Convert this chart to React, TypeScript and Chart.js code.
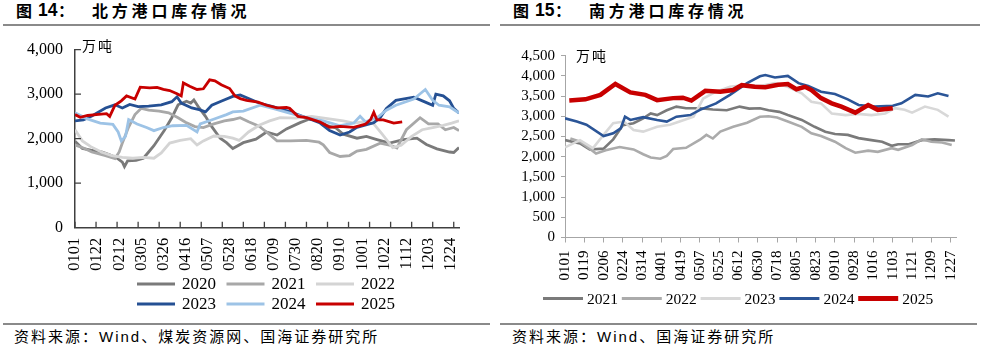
import React, { useEffect, useRef } from "react";
import { Chart, registerables } from "chart.js";

Chart.register(...registerables);

type Pt = [number, number];

// ---------- tick labels ----------
const northTickLabels = ["0101","0122","0212","0305","0326","0416","0507","0528","0618","0709","0730","0820","0910","1001","1022","1112","1203","1224"];
const southTickLabels = ["0101","0119","0206","0224","0314","0401","0419","0507","0525","0612","0630","0718","0805","0823","0910","0928","1016","1103","1121","1209","1227"];
const northTickMarkDays = [0,20,40,60,80,100,120,140,160,180,200,220,240,260,280,300,320,340,360];
const northYTicks = [0, 1000, 2000, 3000, 4000];
const southYTicks = [0, 500, 1000, 1500, 2000, 2500, 3000, 3500, 4000, 4500];

// ---------- north port inventory (day of year, 万吨) ----------
const north2020: Pt[] = [[0,1940],[7,1780],[15,1740],[26,1700],[33,1640],[40,1560],[45,1470],[47,1370],[50,1500],[58,1510],[65,1560],[70,1700],[75,1840],[85,2190],[92,2470],[98,2760],[106,2840],[110,2800],[113,2870],[118,2690],[124,2500],[130,2270],[138,2010],[144,1910],[150,1780],[160,1910],[172,1990],[182,2150],[192,2080],[201,2220],[214,2360],[223,2440],[230,2420],[239,2300],[248,2240],[255,2100],[268,2010],[277,2050],[287,1980],[299,1900],[312,1980],[325,2010],[334,1870],[344,1770],[356,1700],[360,1690],[365,1800]];
const north2021: Pt[] = [[0,1860],[8,1790],[16,1700],[29,1620],[38,1550],[42,1700],[45,1900],[51,2260],[57,2540],[63,2680],[70,2640],[80,2620],[89,2580],[98,2470],[105,2370],[114,2270],[122,2250],[132,2330],[142,2400],[150,2430],[157,2470],[165,2380],[175,2280],[182,2150],[192,1950],[205,1950],[220,1960],[232,1920],[236,1860],[242,1690],[252,1600],[261,1620],[268,1720],[277,1760],[290,1900],[300,1850],[306,1790],[315,2200],[328,2470],[336,2330],[345,2330],[352,2200],[360,2250],[365,2180]];
const north2022: Pt[] = [[0,2200],[7,1950],[15,1820],[25,1700],[35,1620],[45,1580],[55,1560],[65,1580],[75,1560],[82,1680],[90,1900],[100,1960],[110,2000],[116,1860],[122,1950],[132,2060],[142,2050],[150,2010],[156,1960],[165,2150],[175,2300],[185,2400],[195,2470],[210,2460],[225,2500],[240,2450],[255,2400],[265,2350],[275,2380],[284,2330],[292,2100],[302,1800],[310,1850],[320,2050],[330,2200],[340,2250],[350,2300],[358,2350],[365,2400]];
const north2023: Pt[] = [[0,2400],[8,2420],[16,2510],[29,2690],[38,2760],[45,2690],[52,2770],[60,2720],[70,2730],[82,2760],[92,2830],[97,2940],[101,2800],[111,2690],[118,2650],[124,2600],[130,2750],[140,2850],[150,2950],[157,2980],[165,2900],[175,2800],[188,2720],[204,2610],[220,2470],[233,2350],[242,2180],[252,2080],[261,2150],[268,2255],[284,2360],[290,2470],[296,2680],[305,2860],[322,2930],[333,2820],[340,2750],[343,3000],[350,2960],[356,2850],[360,2680],[365,2575]];
const north2024: Pt[] = [[0,2580],[11,2450],[24,2350],[36,2320],[41,2150],[44,1950],[48,2050],[51,2430],[59,2330],[68,2250],[75,2180],[84,2250],[93,2290],[106,2300],[116,2150],[119,2330],[131,2430],[144,2540],[150,2600],[160,2620],[176,2750],[188,2680],[204,2575],[220,2470],[236,2400],[252,2290],[265,2350],[271,2500],[276,2380],[287,2470],[296,2640],[305,2750],[322,2890],[333,3105],[340,2860],[346,2750],[356,2715],[365,2575]];
const north2025: Pt[] = [[0,2540],[5,2480],[12,2520],[20,2540],[30,2560],[33,2500],[38,2750],[44,2850],[49,2960],[57,2890],[62,3155],[71,3140],[78,3150],[84,3105],[90,3080],[97,3010],[101,2960],[103,3250],[109,3175],[116,3105],[122,3120],[128,3320],[133,3300],[139,3210],[147,3125],[152,2960],[157,2900],[163,2860],[174,2820],[182,2750],[192,2690],[201,2700],[204,2680],[212,2500],[220,2470],[233,2375],[242,2255],[252,2275],[265,2255],[276,2325],[281,2430],[284,2590],[287,2420],[293,2420],[303,2350],[311,2375]];

// ---------- south port inventory (day of year, 万吨) ----------
const south2021: Pt[] = [[0,2410],[14,2330],[23,2180],[36,2200],[45,2430],[54,2780],[64,2830],[73,2950],[80,3070],[86,3030],[95,3150],[104,3240],[113,3200],[126,3200],[138,3170],[151,3150],[163,3240],[172,3190],[182,3200],[190,3150],[200,3110],[208,3030],[221,2910],[233,2740],[243,2620],[252,2560],[264,2540],[274,2460],[286,2410],[296,2370],[305,2270],[311,2310],[321,2310],[333,2410],[345,2430],[358,2410],[364,2400]];
const south2022: Pt[] = [[5,2450],[14,2370],[23,2200],[29,2080],[38,2160],[51,2240],[64,2180],[73,2060],[80,1980],[89,1950],[95,2020],[101,2190],[113,2220],[126,2420],[132,2540],[138,2450],[145,2620],[157,2740],[170,2840],[182,2990],[190,3000],[198,2970],[208,2870],[221,2740],[230,2580],[239,2510],[252,2370],[262,2210],[271,2100],[283,2150],[292,2120],[305,2210],[311,2170],[324,2290],[333,2430],[342,2370],[352,2350],[361,2290]];
const south2023: Pt[] = [[0,2230],[14,2410],[26,2210],[36,2540],[45,2830],[55,2870],[64,2660],[73,2620],[86,2740],[98,2790],[107,2870],[120,2990],[129,3440],[141,3610],[154,3730],[170,3780],[182,3750],[196,3820],[208,3730],[221,3570],[230,3360],[239,3320],[249,3070],[262,3030],[274,3060],[286,3030],[299,3070],[308,3200],[317,3160],[324,3090],[336,3240],[348,3160],[358,2990]];
const south2024: Pt[] = [[0,2950],[11,2870],[20,2790],[36,2510],[45,2580],[52,2700],[56,2990],[61,2910],[73,2980],[86,2910],[95,2870],[104,2990],[117,3030],[126,3160],[141,3320],[154,3530],[170,3820],[182,3990],[187,4020],[196,3960],[208,4000],[218,3820],[227,3750],[239,3610],[252,3550],[264,3420],[274,3280],[289,3240],[306,3260],[314,3320],[327,3530],[339,3490],[348,3570],[358,3500]];
const south2025: Pt[] = [[4,3390],[19,3420],[33,3530],[47,3800],[61,3590],[75,3530],[86,3400],[101,3450],[110,3460],[118,3390],[131,3630],[145,3610],[157,3650],[165,3770],[177,3730],[187,3720],[199,3780],[208,3800],[216,3670],[224,3730],[230,3650],[239,3450],[249,3320],[258,3240],[271,3090],[283,3280],[292,3160],[306,3200]];

// ---------- helpers ----------
const MONTH_START = [0, 31, 59, 90, 120, 151, 181, 212, 243, 273, 304, 334];
const dayOfYear = (mmdd: string) =>
  MONTH_START[Number(mmdd.slice(0, 2)) - 1] + Number(mmdd.slice(2)) - 1;
const toXY = (pts: Pt[]) => pts.map(([x, y]) => ({ x, y }));
const fmt = (v: number | string) => Number(v).toLocaleString("en-US");

const SERIF = "'Liberation Serif', 'Times New Roman', serif";
const CJK = "'Liberation Sans', 'Noto Sans CJK SC', sans-serif";

const lineLegendPlugin = {
  id: "lineLegend",
  afterDraw(chart: any, _args: any, opts: any) {
    if (!opts || !opts.rows) return;
    const ctx = chart.ctx as CanvasRenderingContext2D;
    ctx.save();
    ctx.font = opts.font;
    ctx.textBaseline = "middle";
    ctx.textAlign = "left";
    ctx.fillStyle = opts.color;
    opts.rows.forEach((row: any) => {
      row.indices.forEach((di: number, k: number) => {
        const ds = chart.data.datasets[di];
        const x = row.x + k * opts.pitch;
        ctx.strokeStyle = ds.borderColor;
        ctx.lineWidth = ds.legendLineWidth ?? ds.borderWidth;
        ctx.lineCap = "butt";
        ctx.beginPath();
        ctx.moveTo(x, row.y);
        ctx.lineTo(x + opts.lineLength, row.y);
        ctx.stroke();
        ctx.fillText(ds.label, x + opts.textOffset, row.y + (opts.textDy || 0));
      });
    });
    ctx.restore();
  },
};

const innerTicksPlugin = {
  id: "innerTicks",
  afterDraw(chart: any, _args: any, opts: any) {
    if (!opts || !opts.enabled) return;
    const ctx = chart.ctx as CanvasRenderingContext2D;
    const { chartArea } = chart;
    const xs = chart.scales.x;
    const ys = chart.scales.y;
    ctx.save();
    ctx.strokeStyle = opts.color;
    ctx.lineWidth = opts.width;
    ctx.beginPath();
    (opts.xValues || []).forEach((v: number) => {
      const px = xs.getPixelForValue(v);
      ctx.moveTo(px, chartArea.bottom);
      ctx.lineTo(px, chartArea.bottom - opts.length);
    });
    (opts.yValues || []).forEach((v: number) => {
      if (v === 0) return;
      const py = ys.getPixelForValue(v);
      ctx.moveTo(chartArea.left, py);
      ctx.lineTo(chartArea.left + opts.length, py);
    });
    ctx.stroke();
    ctx.restore();
  },
};

function northConfig(): any {
  const series = [
    { name: "2020", pts: north2020, color: "#7a7a7a" },
    { name: "2021", pts: north2021, color: "#a8a8a8" },
    { name: "2022", pts: north2022, color: "#d4d4d4" },
    { name: "2023", pts: north2023, color: "#255093" },
    { name: "2024", pts: north2024, color: "#9dc3e6" },
    { name: "2025", pts: north2025, color: "#c80000" },
  ];
  const labelDays = northTickLabels.map(dayOfYear);
  const labelByDay = new Map(labelDays.map((d, i) => [d, northTickLabels[i]]));
  return {
    type: "line",
    data: {
      datasets: series.map((s, i) => ({
        label: s.name,
        data: toXY(s.pts),
        borderColor: s.color,
        backgroundColor: s.color,
        borderWidth: 2.8,
        legendLineWidth: 3,
        pointRadius: 0,
        tension: 0,
        fill: false,
        order: series.length - i,
      })),
    },
    options: {
      responsive: false,
      animation: false,
      events: [],
      layout: { padding: { top: 11.7, right: 31, left: 0, bottom: 0 } },
      plugins: {
        legend: { display: false },
        tooltip: { enabled: false },
        lineLegend: {
          rows: [
            { indices: [0, 1, 2], x: 137, y: 256 },
            { indices: [3, 4, 5], x: 137, y: 276 },
          ],
          pitch: 89.5,
          lineLength: 38,
          textOffset: 45,
          font: `17px ${SERIF}`,
          color: "#000",
          textDy: 1,
        },
        innerTicks: {
          enabled: true,
          xValues: northTickMarkDays,
          yValues: northYTicks,
          length: 6,
          color: "#404040",
          width: 1.3,
        },
      },
      scales: {
        x: {
          type: "linear",
          min: 0,
          max: 365,
          afterBuildTicks: (s: any) => {
            s.ticks = labelDays.map((v) => ({ value: v }));
          },
          afterFit: (s: any) => {
            s.height = 94.3;
          },
          ticks: {
            autoSkip: false,
            minRotation: 90,
            maxRotation: 90,
            padding: 10,
            color: "#000",
            font: { family: SERIF, size: 16.5 },
            callback: (v: number) => labelByDay.get(v) ?? "",
          },
          grid: { display: false, drawTicks: false },
          border: { display: true, color: "#404040", width: 1.5 },
        },
        y: {
          min: 0,
          max: 4000,
          afterBuildTicks: (s: any) => {
            s.ticks = northYTicks.map((v) => ({ value: v }));
          },
          afterFit: (s: any) => {
            s.width = 75;
          },
          ticks: {
            autoSkip: false,
            padding: 12,
            color: "#000",
            font: { family: SERIF, size: 16 },
            callback: (v: number) => fmt(v),
          },
          grid: { display: false, drawTicks: false },
          border: { display: true, color: "#404040", width: 1.5 },
        },
      },
    },
    plugins: [lineLegendPlugin, innerTicksPlugin],
  };
}

function southConfig(): any {
  const series = [
    { name: "2021", pts: south2021, color: "#7a7a7a", w: 2.6 },
    { name: "2022", pts: south2022, color: "#ababab", w: 2.6 },
    { name: "2023", pts: south2023, color: "#d8d8d8", w: 2.6 },
    { name: "2024", pts: south2024, color: "#2b5597", w: 2.6 },
    { name: "2025", pts: south2025, color: "#c80000", w: 4.5 },
  ];
  const labelDays = southTickLabels.map(dayOfYear);
  const labelByDay = new Map(labelDays.map((d, i) => [d, southTickLabels[i]]));
  return {
    type: "line",
    data: {
      datasets: series.map((s, i) => ({
        label: s.name,
        data: toXY(s.pts),
        borderColor: s.color,
        backgroundColor: s.color,
        borderWidth: s.w,
        legendLineWidth: s.w + 0.5,
        pointRadius: 0,
        tension: 0,
        fill: false,
        order: series.length - i,
      })),
    },
    options: {
      responsive: false,
      animation: false,
      events: [],
      layout: { padding: { top: 27.7, right: 26, left: 0, bottom: 0 } },
      plugins: {
        legend: { display: false },
        tooltip: { enabled: false },
        lineLegend: {
          rows: [{ indices: [0, 1, 2, 3, 4], x: 48, y: 270.5 }],
          pitch: 78.8,
          lineLength: 40,
          textOffset: 44,
          font: `15.5px ${SERIF}`,
          color: "#000",
          textDy: 1,
        },
      },
      scales: {
        x: {
          type: "linear",
          min: 0,
          max: 365,
          afterBuildTicks: (s: any) => {
            s.ticks = labelDays.map((v) => ({ value: v }));
          },
          afterFit: (s: any) => {
            s.height = 84.5;
          },
          ticks: {
            autoSkip: false,
            minRotation: 90,
            maxRotation: 90,
            padding: 8,
            color: "#000",
            font: { family: SERIF, size: 15 },
            callback: (v: number) => labelByDay.get(v) ?? "",
          },
          grid: {
            display: true,
            drawOnChartArea: false,
            drawTicks: true,
            tickLength: 5,
            color: "#a6a6a6",
            lineWidth: 1,
          },
          border: { display: true, color: "#a6a6a6", width: 1 },
        },
        y: {
          min: 0,
          max: 4500,
          afterBuildTicks: (s: any) => {
            s.ticks = southYTicks.map((v) => ({ value: v }));
          },
          afterFit: (s: any) => {
            s.width = 70;
          },
          ticks: {
            autoSkip: false,
            padding: 6,
            color: "#000",
            font: { family: SERIF, size: 15 },
            callback: (v: number) => fmt(v),
          },
          grid: {
            display: true,
            drawOnChartArea: false,
            drawTicks: true,
            tickLength: 4,
            color: "#a6a6a6",
            lineWidth: 1,
          },
          border: { display: true, color: "#a6a6a6", width: 1 },
        },
      },
    },
    plugins: [lineLegendPlugin],
  };
}

function ChartCanvas(props: { left: number; top: number; width: number; height: number; build: () => any }) {
  const ref = useRef<HTMLCanvasElement | null>(null);
  useEffect(() => {
    if (!ref.current) return;
    const chart = new Chart(ref.current, props.build());
    return () => chart.destroy();
  }, []);
  return (
    <canvas
      ref={ref}
      width={props.width}
      height={props.height}
      style={{ position: "absolute", left: props.left, top: props.top, width: props.width, height: props.height }}
    />
  );
}

const abs = (left: number, top: number, extra: React.CSSProperties = {}): React.CSSProperties => ({
  position: "absolute",
  left,
  top,
  whiteSpace: "nowrap",
  ...extra,
});

function Title(props: { x: number; num: string; text: string }) {
  const base: React.CSSProperties = { fontWeight: 700, fontSize: 16, lineHeight: "20px", color: "#000" };
  return (
    <>
      <div style={abs(props.x + 16, 0, { ...base, fontFamily: "'Noto Sans CJK SC', sans-serif" })}>图</div>
      <div style={abs(props.x + 38, 0, { ...base, fontSize: 17.5, fontFamily: "'Liberation Sans', Arial, sans-serif" })}>{props.num}</div>
      <div style={abs(props.x + 58, 0, { ...base, fontFamily: "'Noto Sans CJK SC', sans-serif" })}>：</div>
      <div style={abs(props.x + 92, 0, { ...base, fontFamily: "'Noto Sans CJK SC', sans-serif", letterSpacing: "3.8px" })}>{props.text}</div>
    </>
  );
}

export default function App() {
  const rule = (left: number, top: number, width: number): React.CSSProperties => ({
    position: "absolute",
    left,
    top,
    width,
    height: 2,
    background: "#8a8a8a",
  });
  const src: React.CSSProperties = { fontSize: 15, lineHeight: "18px", fontFamily: CJK, color: "#000", letterSpacing: "2px" };
  const unit: React.CSSProperties = { fontSize: 14, lineHeight: "16px", fontFamily: "'Noto Sans CJK SC', sans-serif", color: "#000", letterSpacing: "2px" };
  return (
    <div style={{ position: "absolute", left: 0, top: 0, width: 982, height: 352, background: "#fff", overflow: "hidden" }}>
      <Title x={0} num="14" text="北方港口库存情况" />
      <Title x={497} num="15" text="南方港口库存情况" />
      <div style={rule(3, 24, 487)} />
      <div style={rule(500, 24, 480)} />
      <ChartCanvas left={0} top={28} width={490} height={294} build={northConfig} />
      <ChartCanvas left={495} top={28} width={487} height={294} build={southConfig} />
      <div style={abs(82, 37, unit)}>万吨</div>
      <div style={abs(576, 47, unit)}>万吨</div>
      <div style={rule(3, 323, 487)} />
      <div style={rule(500, 323, 477)} />
      <div style={abs(14, 328, src)}>资料来源：Wind、煤炭资源网、国海证券研究所</div>
      <div style={abs(512, 328, src)}>资料来源：Wind、国海证券研究所</div>
    </div>
  );
}
